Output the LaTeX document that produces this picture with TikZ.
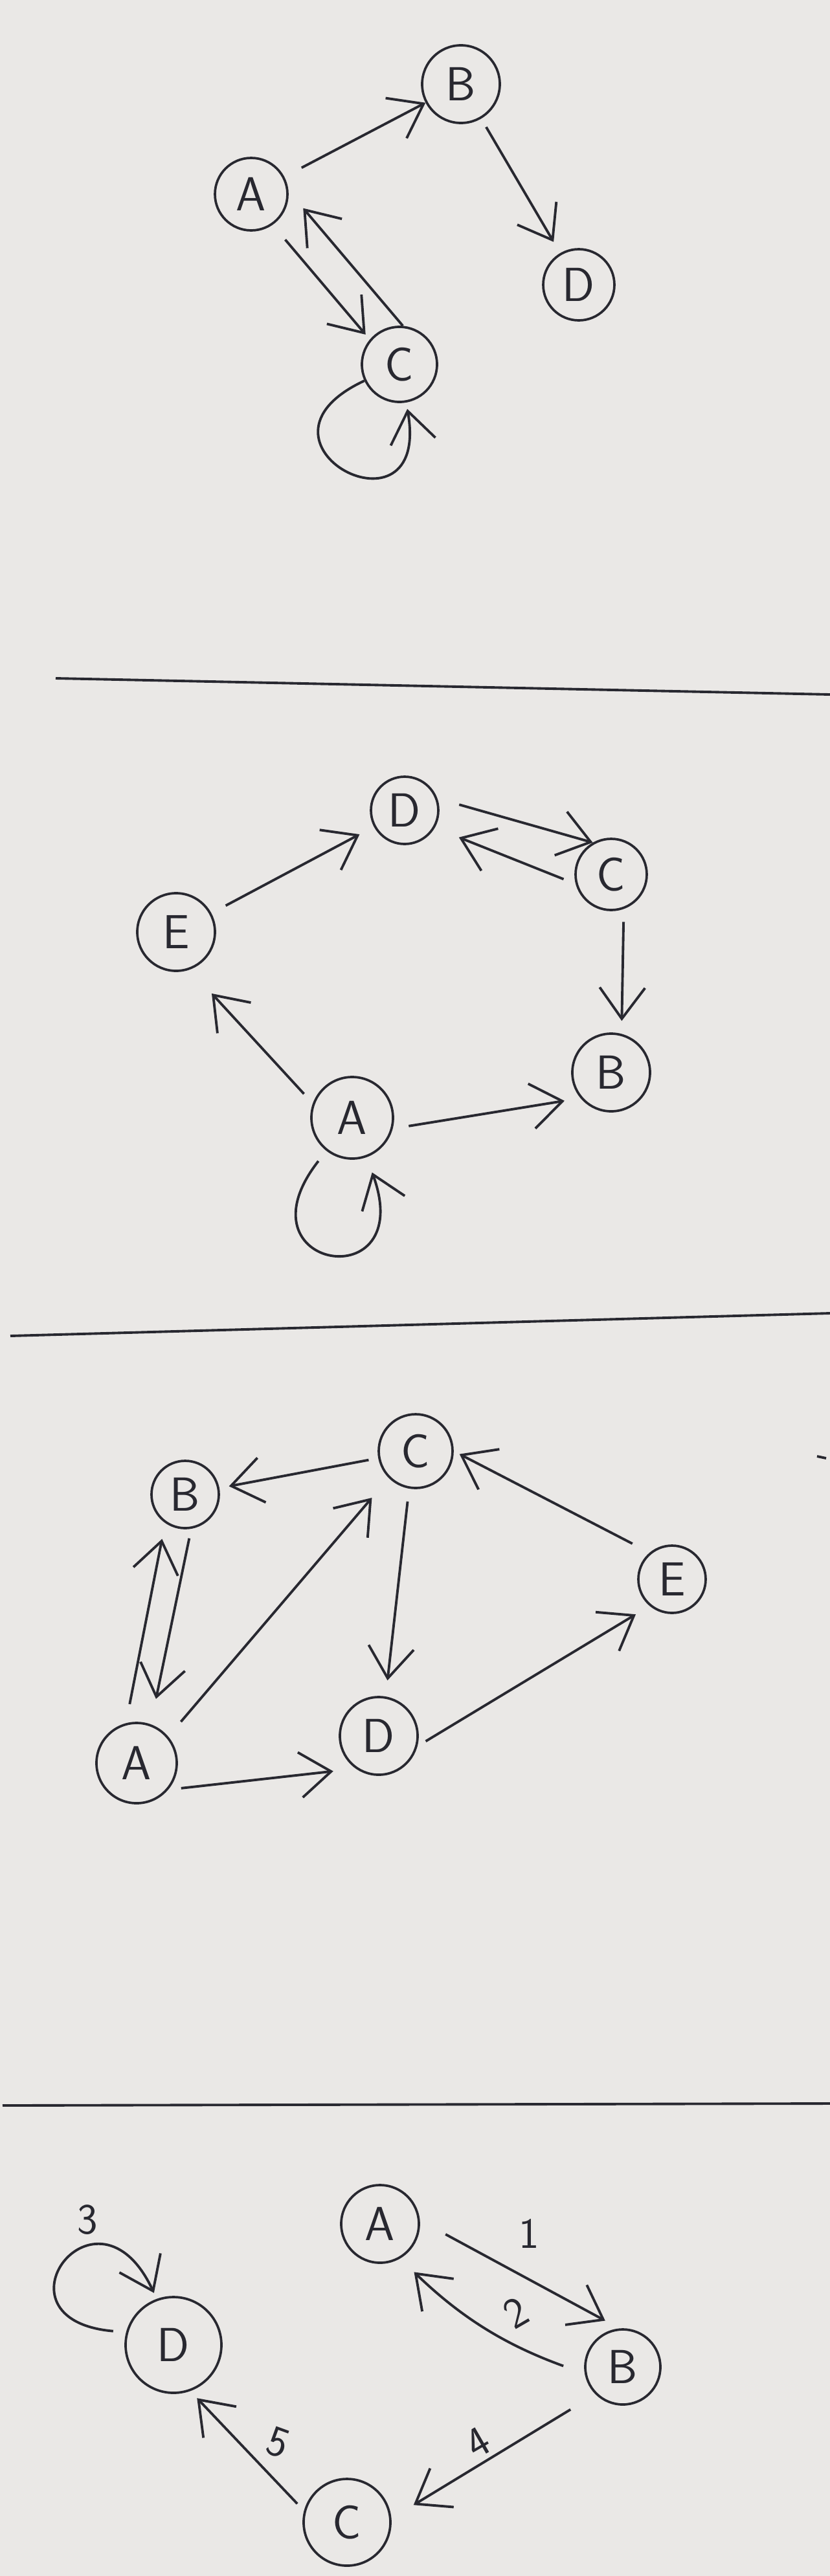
\documentclass[tikz,border=0pt]{standalone}
\usetikzlibrary{arrows.meta}
\definecolor{paper}{RGB}{234,232,230}
\definecolor{pen}{RGB}{40,40,48}

\begin{document}
\begin{tikzpicture}[
  vtx/.style={draw=pen, circle, line width=1.05pt, minimum size=11.4mm, inner sep=0pt,
              text=pen, font=\sffamily\fontsize{21}{21}\selectfont},
  arr/.style={-{Straight Barb[length=4.8mm,width=7mm]}, draw=pen, line width=1.1pt,
              shorten <=2mm, shorten >=2mm},
  rule/.style={draw=pen, line width=1.1pt},
  wt/.style={text=pen, inner sep=0pt, font=\sffamily\fontsize{19}{19}\selectfont}
]
  \useasboundingbox (0,0) rectangle (12.82,-39.80);
  \fill[paper] (0,0) rectangle (12.82,-39.80);

  % graph 1
  \node[vtx, minimum size=11.2mm] (A1) at (3.88,-3.00) {A};
  \node[vtx, minimum size=12mm] (B1) at (7.12,-1.30) {B};
  \node[vtx, minimum size=11mm] (D1) at (8.94,-4.40) {D};
  \node[vtx, minimum size=11.6mm] (C1) at (6.17,-5.63) {C};
  \draw[arr, shorten <=3mm, shorten >=0mm] (A1) -- (B1);
  \draw[arr, shorten <=1.5mm] (B1) -- (D1);
  \draw[arr, shorten <=3mm, shorten >=1mm] (A1.-55) -- (C1.140);
  \draw[arr, shorten <=0mm, shorten >=3.5mm] (C1.85) -- (A1.5);
  \draw[arr, shorten <=0mm, shorten >=1mm] (C1) to[out=205, in=-80, looseness=8] (C1);

  \draw[rule] (0.86,-10.48) -- (12.82,-10.73);

  % graph 2
  \node[vtx, minimum size=10.4mm] (D2) at (6.25,-12.52) {D};
  \node[vtx, minimum size=11mm] (C2) at (9.44,-13.51) {C};
  \node[vtx, minimum size=12mm] (E2) at (2.72,-14.40) {E};
  \node[vtx, minimum size=12mm] (B2) at (9.44,-16.57) {B};
  \node[vtx, minimum size=12.6mm] (A2) at (5.44,-17.27) {A};
  \draw[arr, shorten <=2.5mm, shorten >=2.5mm] (E2) -- (D2);
  \draw[arr, shorten <=3.5mm, shorten >=0mm] (D2.20) -- (C2.120);
  \draw[arr, shorten <=2mm, shorten >=4mm] (C2.195) -- (D2.-30);
  \draw[arr] (C2.-70) -- (B2.75);
  \draw[arr, shorten >=5mm] (A2.160) -- (E2.-70);
  \draw[arr, shorten <=2.5mm, shorten >=2.5mm] (A2.-15) -- (B2.220);
  \draw[arr, shorten <=2mm, shorten >=2.5mm] (A2) to[out=232, in=-70, looseness=9.5] (A2);

  \draw[rule] (0.16,-20.64) -- (12.82,-20.29);

  % graph 3
  \node[vtx] (C3) at (6.42,-22.42) {C};
  \node[vtx, minimum size=10.4mm] (B3) at (2.86,-23.09) {B};
  \node[vtx, minimum size=10.4mm] (E3) at (10.38,-24.40) {E};
  \node[vtx, minimum size=12.4mm] (A3) at (2.11,-27.24) {A};
  \node[vtx, minimum size=12mm] (D3) at (5.85,-26.82) {D};
  \draw[arr, shorten <=1.5mm, shorten >=1.5mm] (C3) -- (B3);
  \draw[arr, shorten <=1.5mm, shorten >=4mm] (B3.-80) -- (A3.70);
  \draw[arr, shorten <=3mm, shorten >=2.5mm] (A3.105) -- (B3.235);
  \draw[arr, shorten <=3mm, shorten >=4mm] (A3.40) -- (C3.225);
  \draw[arr, shorten <=2mm, shorten >=2.5mm] (C3.-100) -- (D3.80);
  \draw[arr, shorten <=3mm, shorten >=1mm] (E3.130) -- (C3.0);
  \draw[arr, shorten <=1.5mm, shorten >=2.5mm] (D3.-15) -- (E3.230);
  \draw[arr, shorten <=2mm, shorten >=3.5mm] (A3.-40) -- (D3.235);
  \draw[rule] (12.62,-22.50) -- (12.76,-22.53);

  \draw[rule] (0.04,-32.53) -- (12.82,-32.50);

  % graph 4, weighted
  \node[vtx, minimum size=12mm] (A4) at (5.87,-34.36) {A};
  \node[vtx, minimum size=11.6mm] (B4) at (9.62,-36.57) {B};
  \node[vtx, minimum size=14.8mm] (D4) at (2.68,-36.23) {D};
  \node[vtx, minimum size=13.4mm] (C4) at (5.36,-38.97) {C};
  \draw[arr, shorten <=4.5mm, shorten >=2.5mm] (A4.5) -- (B4.95);
  \draw[arr, shorten <=3.5mm, shorten >=3mm] (B4.190) to[bend left=12] (A4.-60);
  \draw[arr, shorten <=2mm, shorten >=1mm] (D4.165) to[out=175, in=115, looseness=8] (D4.110);
  \draw[arr, shorten <=4.5mm, shorten >=4mm] (B4.225) -- (C4.5);
  \draw[arr, shorten <=1.5mm, shorten >=1.5mm] (C4.165) -- (D4.-70);
  \node[wt] (w1) at (8.17,-34.51) {1};
  \node[wt, rotate=30] (w2) at (7.97,-35.73) {2};
  \node[wt] (w3) at (1.35,-34.30) {3};
  \node[wt, rotate=30] (w4) at (7.38,-37.74) {4};
  \node[wt, rotate=-20] (w5) at (4.30,-37.74) {5};
\end{tikzpicture}
\end{document}
